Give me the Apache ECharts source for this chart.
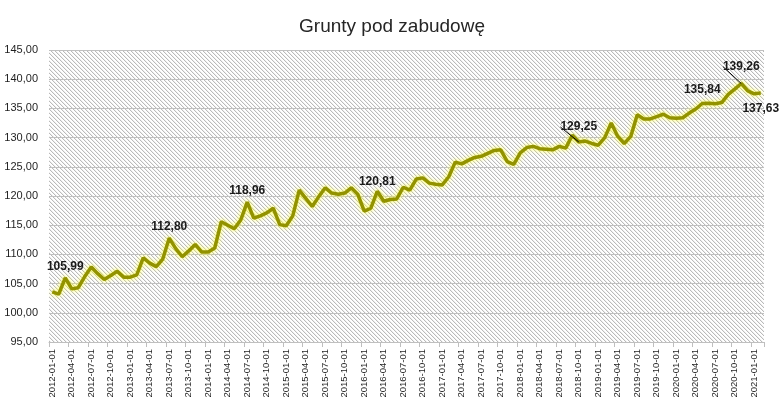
<!DOCTYPE html>
<html>
<head>
<meta charset="utf-8">
<script src="https://cdn.jsdelivr.net/npm/echarts@6/dist/echarts.min.js"></script>
<style>html,body{margin:0;padding:0;background:#fff}#c{width:784px;height:416px}</style>
</head>
<body>
<div id="c"></div>
<script>
// Monthly categories 2012-01 .. 2021-02
const firstYear = 2012, pointCount = 110;
const categories = [];
for (let k = 0; k < pointCount; k++) {
  const y = firstYear + Math.floor(k / 12), m = (k % 12) + 1;
  categories.push(y + '-' + (m < 10 ? '0' : '') + m + '-01');
}
const values = [
  103.6, 103.2, 105.99, 104.1, 104.3, 106.2, 107.85, 106.7, 105.7, 106.4, 107.1, 106.1,
  106.1, 106.5, 109.4, 108.5, 107.9, 109.2, 112.80, 111.0, 109.6, 110.6, 111.7, 110.4,
  110.4, 111.1, 115.6, 115.0, 114.4, 115.9, 118.96, 116.2, 116.6, 117.1, 117.9, 115.1,
  114.9, 116.6, 121.0, 119.6, 118.2, 119.9, 121.4, 120.5, 120.3, 120.5, 121.4, 120.3,
  117.4, 117.9, 120.81, 119.1, 119.4, 119.5, 121.5, 121.0, 122.9, 123.1, 122.2, 122.0,
  121.9, 123.3, 125.8, 125.5, 126.1, 126.6, 126.8, 127.3, 127.8, 127.9, 125.9, 125.4,
  127.4, 128.3, 128.5, 128.1, 128.0, 127.9, 128.5, 128.2, 130.4, 129.25, 129.4, 129.0,
  128.7, 130.0, 132.5, 130.2, 129.0, 130.2, 133.9, 133.2, 133.2, 133.6, 134.0, 133.4,
  133.3, 133.4, 134.2, 134.9, 135.84, 135.9, 135.8, 136.0, 137.4, 138.3, 139.26, 138.0,
  137.5, 137.63
];
const labeledIndices = [2, 18, 30, 50, 81, 100, 106, 109];
const yTicks = { min: 95, max: 145, step: 5 };
const titleText = 'Grunty pod zabudowę';

// label placement (style only)
const labelPlacement = {
  2: { position: 'top', distance: 5, offset: [4, 0] },
  18: { position: 'top', distance: 5, offset: [5, 0] },
  30: { position: 'top', distance: 5, offset: [4, 0] },
  50: { position: 'top', distance: 4, offset: [3, 1] },
  81: { position: 'top', distance: 3, offset: [1, 0], dy: -6 },
  100: { position: 'top', distance: 8, offset: [0, 0] },
  106: { position: 'top', distance: 3, offset: [-3, 0], dy: -8 },
  109: { position: 'bottom', distance: 10, offset: [-5, 0] }
};

// hatch pattern
const tile = document.createElement('canvas');
tile.width = 4; tile.height = 4;
const tc = tile.getContext('2d');
tc.fillStyle = '#ffffff'; tc.fillRect(0, 0, 4, 4);
for (let k = 0; k < 4; k++) {
  tc.fillStyle = '#bababa'; tc.fillRect(k, k, 1, 1);
  tc.fillStyle = '#f0f0f0'; tc.fillRect((k + 1) % 4, k, 1, 1);
}

const fmt = v => v.toFixed(2).replace('.', ',');

const seriesData = values.map((v, i) => {
  if (labeledIndices.indexOf(i) < 0) return v;
  const p = labelPlacement[i];
  const item = {
    value: v,
    label: { show: true, position: p.position, distance: p.distance, offset: p.offset }
  };
  if (p.dy) item.labelLine = { show: true, lineStyle: { color: '#000', width: 1 } };
  return item;
});

const chart = echarts.init(document.getElementById('c'), null, { renderer: 'canvas' });
chart.setOption({
  animation: false,
  backgroundColor: '#ffffff',
  title: {
    text: titleText, left: 'center', top: 12,
    textStyle: { fontFamily: 'Liberation Sans', fontSize: 19, fontWeight: 'normal', color: '#262626' }
  },
  grid: {
    left: 49, right: 20, top: 50, bottom: 74,
    show: true, borderWidth: 0,
    backgroundColor: { image: tile, repeat: 'repeat' }
  },
  xAxis: {
    type: 'category', data: categories, boundaryGap: true,
    axisLine: { show: true, lineStyle: { color: '#bfbfbf', width: 1 } },
    axisTick: { show: true, interval: 2, length: 5, lineStyle: { color: '#bfbfbf' } },
    axisLabel: {
      interval: 2, rotate: 90, margin: 7,
      fontFamily: 'Liberation Sans', fontSize: 9.5, color: '#1f1f1f'
    },
    splitLine: { show: false }
  },
  yAxis: {
    type: 'value', min: yTicks.min, max: yTicks.max, interval: yTicks.step,
    axisLine: { show: false }, axisTick: { show: false },
    axisLabel: { margin: 11, fontFamily: 'Liberation Sans', fontSize: 11, color: '#1f1f1f', formatter: fmt },
    splitLine: { show: true, lineStyle: { color: '#c0c0c0', width: 1 } }
  },
  series: [{
    type: 'line',
    data: seriesData,
    symbol: 'circle', symbolSize: 0, showSymbol: true,
    itemStyle: { color: '#929200' },
    lineStyle: { color: '#929200', width: 3.5, shadowColor: 'rgba(255,255,60,0.95)', shadowBlur: 5 },
    label: {
      show: false,
      fontFamily: 'Liberation Sans', fontSize: 12, fontWeight: 'bold', color: '#1a1a1a',
      formatter: p => fmt(p.value)
    },
    labelLayout: function (params) {
      const p = labelPlacement[params.dataIndex];
      if (p && p.dy) return { dy: p.dy };
      return {};
    },
    emphasis: { disabled: true }
  }]
});
</script>
</body>
</html>
